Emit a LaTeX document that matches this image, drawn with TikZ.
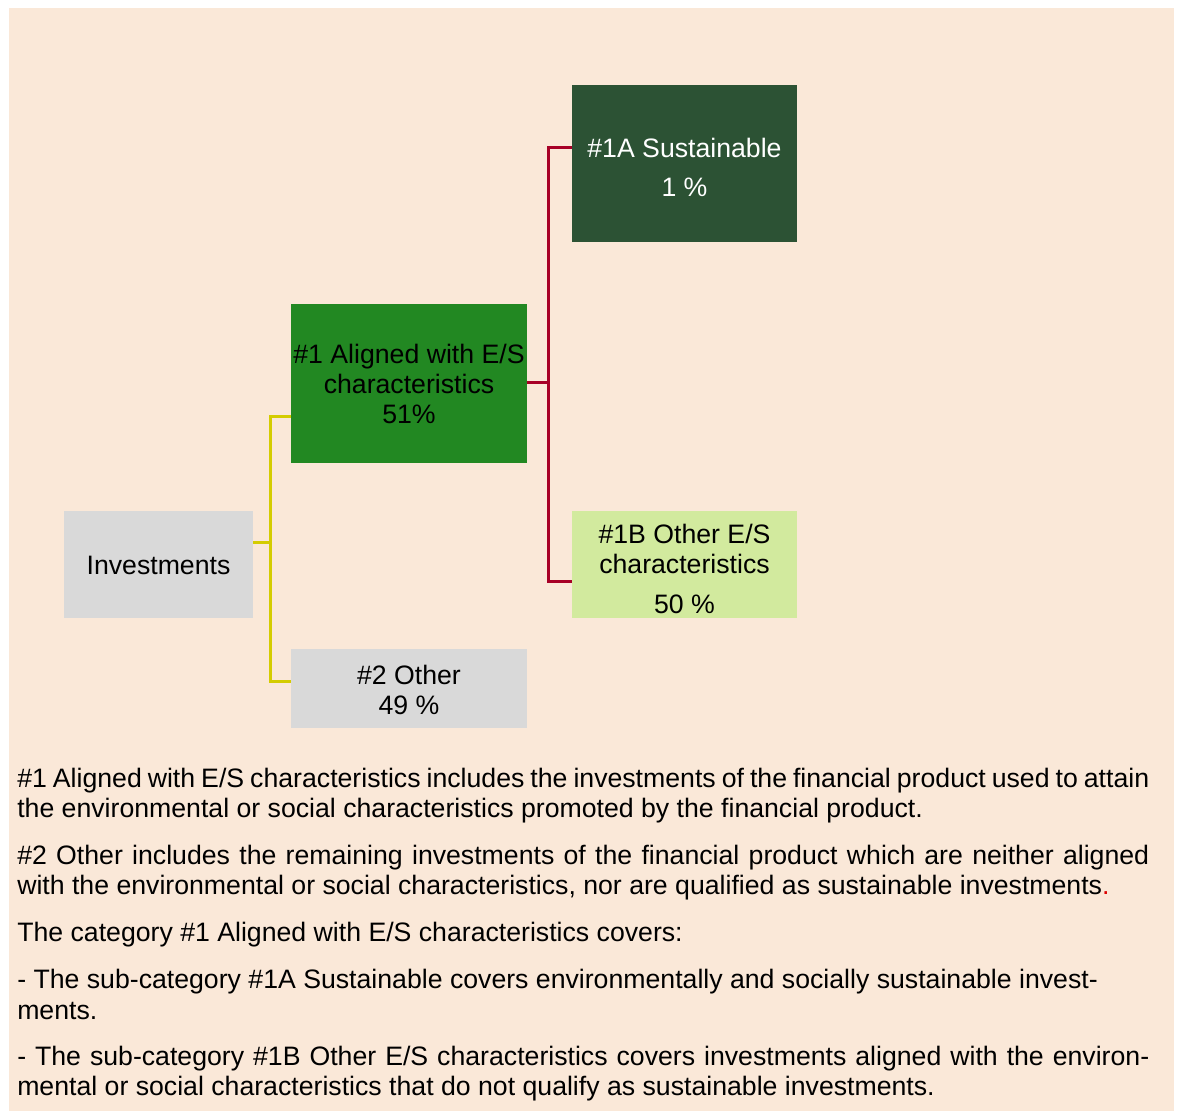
\documentclass[tikz,border=0pt]{standalone}
\usepackage{fontspec}
\setmainfont{Liberation Sans}
\usetikzlibrary{calc}
\definecolor{bgbeige}{RGB}{250,232,216}
\definecolor{darkgr}{RGB}{44,82,52}
\definecolor{forestgr}{RGB}{34,136,34}
\definecolor{lightgr}{RGB}{210,234,158}
\definecolor{boxgray}{RGB}{217,217,217}
\definecolor{conred}{RGB}{167,0,38}
\definecolor{conyel}{RGB}{212,204,0}
\definecolor{dotred}{RGB}{220,0,0}
\begin{document}
\begin{tikzpicture}[x=0.75pt,y=-0.75pt,
  boxnode/.style={rectangle,inner sep=0pt,draw=none},
  boxtxt/.style={inner sep=0pt,anchor=base,font=\fontsize{20}{22.5}\selectfont},
  bodytxt/.style={inner sep=0pt,anchor=base west,font=\fontsize{20}{22.5}\selectfont},
  yelcon/.style={draw=conyel,line width=2.25pt},
  redcon/.style={draw=conred,line width=2.25pt}]
\useasboundingbox (0,0) rectangle (1179,1113);
\fill[white] (0,0) rectangle (1179,1113);
\fill[bgbeige] (9,8) rectangle (1174,1111);

% boxes
\node[boxnode,fill=darkgr,minimum width=168.75pt,minimum height=117.75pt] (b1a) at (684.5,163.5) {};
\node[boxnode,fill=forestgr,minimum width=177pt,minimum height=119.25pt] (b1) at (409,383.5) {};
\node[boxnode,fill=boxgray,minimum width=141.75pt,minimum height=80.25pt] (inv) at (158.5,564.5) {};
\node[boxnode,fill=lightgr,minimum width=168.75pt,minimum height=80.25pt] (b1b) at (684.5,564.5) {};
\node[boxnode,fill=boxgray,minimum width=177pt,minimum height=59.25pt] (b2) at (409,688.5) {};

% box texts
\node[boxtxt,text=white] (t1a) at (684.5,157) {\begin{tabular}[t]{@{}c@{}}\#1A Sustainable\\[6.75pt]1 \%\end{tabular}};
\node[boxtxt,text=black] (t1) at (409,363) {\begin{tabular}[t]{@{}c@{}}\#1 Aligned with E/S\\characteristics\\51\%\end{tabular}};
\node[boxtxt] (tinv) at (158.5,574) {Investments};
\node[boxtxt] (t1b) at (684.5,543) {\begin{tabular}[t]{@{}c@{}}\#1B Other E/S\\characteristics\\[7.5pt]50 \%\end{tabular}};
\node[boxtxt] (t2) at (409,684) {\begin{tabular}[t]{@{}c@{}}\#2 Other\\49 \%\end{tabular}};

% connectors
\draw[yelcon] ($(inv.east)+(0,-22.5)$) -- ++(18,0);
\draw[yelcon] ($(b1.west)+(0,32.5)$) -- ++(-20,0) |- ($(b2.west)+(0,-7.5)$);
\draw[redcon] ($(b1.east)+(0,-1.5)$) -- ++(22,0);
\draw[redcon] ($(b1a.west)+(0,-15.5)$) -- ++(-23,0) |- ($(b1b.west)+(0,16.5)$);

% body text
\node[bodytxt] (l1) at (17,787) {\makebox[849pt][s]{\#1 Aligned with E/S characteristics includes the investments of the financial product used to attain}};
\node[bodytxt] (l2) at (17,817) {the environmental or social characteristics promoted by the financial product.};
\node[bodytxt] (l3) at (17,864) {\makebox[849pt][s]{\#2 Other includes the remaining investments of the financial product which are neither aligned}};
\node[bodytxt] (l4) at (17,894) {with the environmental or social characteristics, nor are qualified as sustainable investments\textcolor{dotred}{.}};
\node[bodytxt] (l5) at (17,941) {The category \#1 Aligned with E/S characteristics covers:};
\node[bodytxt] (l6) at (17,988) {- The sub-category \#1A Sustainable covers environmentally and socially sustainable invest-};
\node[bodytxt] (l7) at (17,1019) {ments.};
\node[bodytxt] (l8) at (17,1065) {\makebox[849pt][s]{- The sub-category \#1B Other E/S characteristics covers investments aligned with the environ-}};
\node[bodytxt] (l9) at (17,1095) {mental or social characteristics that do not qualify as sustainable investments.};
\end{tikzpicture}
\end{document}
